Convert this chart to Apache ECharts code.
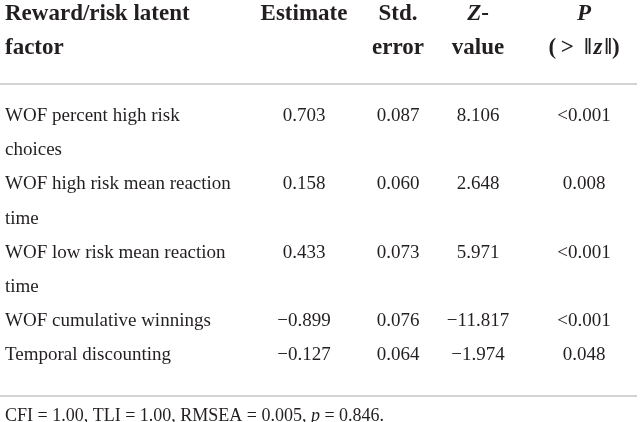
<!DOCTYPE html>
<html>
<head>
<meta charset="utf-8">
<script src="https://cdn.jsdelivr.net/npm/echarts@6/dist/echarts.min.js"></script>
<style>
  html, body { margin: 0; padding: 0; background: #fff; }
  #table { width: 641px; height: 422px; }
</style>
</head>
<body>
<div id="table"></div>
<script>
// ------------------------------------------------------- //
// Table data
// ------------------------------------------------------ //
var headers = [
    ['Reward/risk latent', 'factor'],
    ['Estimate'],
    ['Std.', 'error'],
    ['{i|Z}-', 'value'],
    ['{i|P}', '(\u2009> \u2009\u2016\u200a{i|z}\u200a\u2016)']
];
var factors = [
    ['WOF percent high risk', 'choices'],
    ['WOF high risk mean reaction', 'time'],
    ['WOF low risk mean reaction', 'time'],
    ['WOF cumulative winnings'],
    ['Temporal discounting']
];
var estimate = [0.703, 0.158, 0.433, -0.899, -0.127];
var stdError = [0.087, 0.060, 0.073, 0.076, 0.064];
var zValue = [8.106, 2.648, 5.971, -11.817, -1.974];
var pValue = ['<0.001', '0.008', '<0.001', '<0.001', '0.048'];
var fitNote = 'CFI = 1.00, TLI = 1.00, RMSEA = 0.005, {i|p} = 0.846.';

// layout of the page (not data)
var colX = [5, 304, 398, 478, 584];
var colAlign = ['left', 'center', 'center', 'center', 'center'];
var serif = '"Liberation Serif", "DejaVu Serif", serif';
var ink = '#231f20';
var fontSizes = { head: 23, body: 19, note: 18 };

function fmt(v) {
    return v.toFixed(3).replace('-', '\u2212');
}

// build cells: [col, line slot, text, kind]
var cells = [];
headers.forEach(function (lines, c) {
    lines.forEach(function (t, k) {
        cells.push([c, k - 3, t, 'head']);
    });
});
var slot = 0;
factors.forEach(function (lines, r) {
    lines.forEach(function (t, k) {
        cells.push([0, slot + k, t, 'body']);
    });
    cells.push([1, slot, fmt(estimate[r]), 'body']);
    cells.push([2, slot, fmt(stdError[r]), 'body']);
    cells.push([3, slot, fmt(zValue[r]), 'body']);
    cells.push([4, slot, pValue[r], 'body']);
    slot += lines.length;
});
cells.push([0, slot + 0.8, fitNote, 'note']);

var rules = [[-0.95], [slot + 0.2]];

var chart = echarts.init(document.getElementById('table'), null, { renderer: 'canvas' });
var option = {
    backgroundColor: '#ffffff',
    animation: false,
    grid: { left: 0, right: 0, top: 0, bottom: 0 },
    xAxis: { type: 'value', min: 0, max: 641, show: false },
    yAxis: { type: 'value', min: -3.41, max: 8.965, inverse: true, show: false },
    series: [
        {
            type: 'custom',
            data: rules,
            renderItem: function (params, api) {
                var p = api.coord([0, api.value(0)]);
                var cs = params.coordSys;
                return {
                    type: 'line',
                    shape: { x1: cs.x, y1: p[1], x2: cs.x + cs.width - 4, y2: p[1] },
                    style: { stroke: '#c6c6c6', lineWidth: 1.5 }
                };
            }
        },
        {
            type: 'custom',
            data: cells.map(function (d) { return [d[0], d[1]]; }),
            renderItem: function (params, api) {
                var d = cells[params.dataIndex];
                var p = api.coord([colX[d[0]], d[1]]);
                var size = fontSizes[d[3]];
                var weight = d[3] === 'head' ? 'bold' : 'normal';
                return {
                    type: 'text',
                    style: {
                        text: d[2],
                        x: p[0],
                        y: p[1],
                        align: colAlign[d[0]],
                        verticalAlign: 'middle',
                        fill: ink,
                        fontFamily: serif,
                        fontSize: size,
                        fontWeight: weight,
                        rich: {
                            i: { fontStyle: 'italic', fontFamily: serif, fontSize: size, fontWeight: weight, fill: ink }
                        }
                    }
                };
            }
        }
    ]
};
chart.setOption(option);

window.addEventListener('resize', function () {
    chart.resize();
});
</script>
</body>
</html>
